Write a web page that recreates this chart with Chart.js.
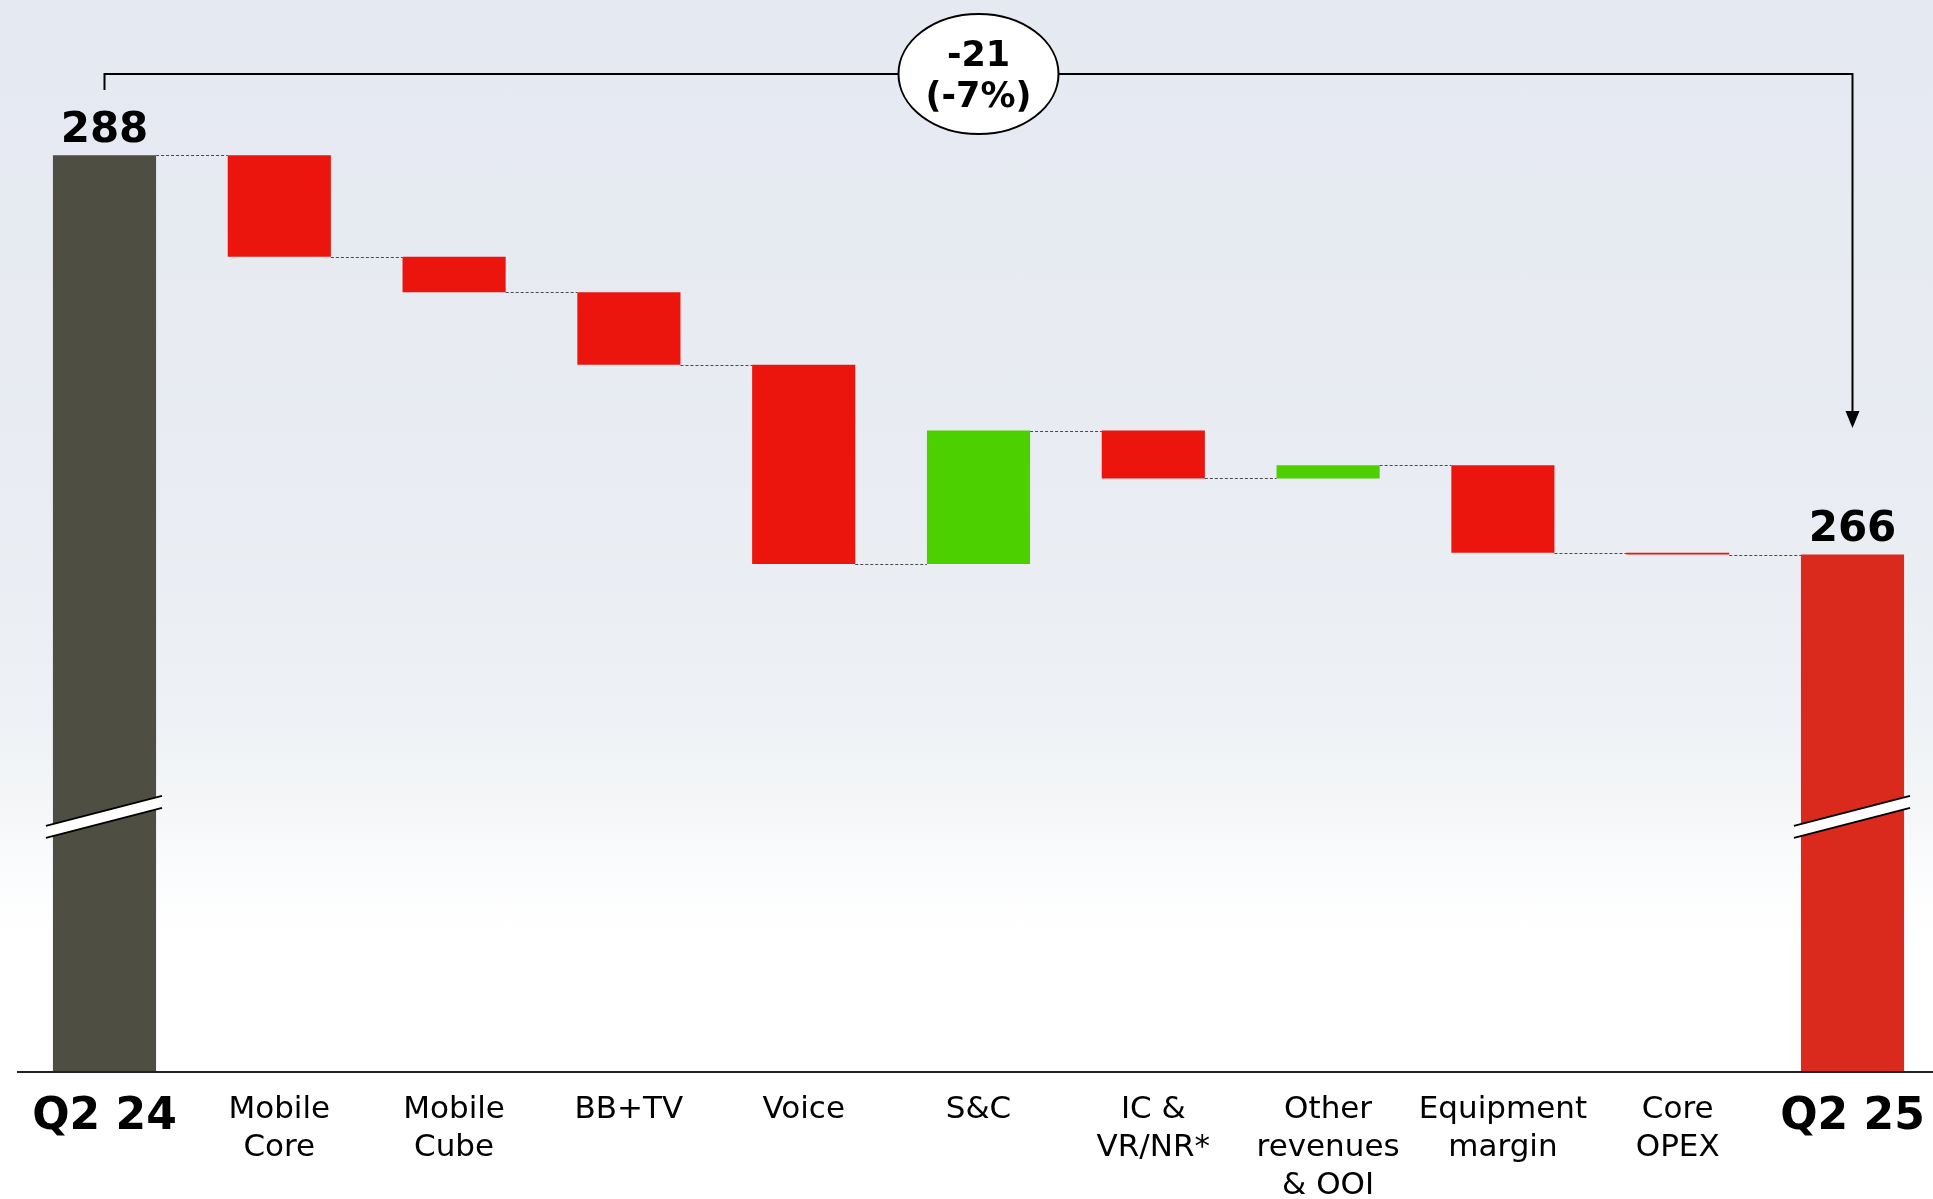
<!DOCTYPE html>
<html>
<head>
<meta charset="utf-8">
<script src="https://cdn.jsdelivr.net/npm/chart.js@4.4.1/dist/chart.umd.min.js"></script>
<style>
  html, body { margin:0; padding:0; width:1933px; height:1199px; overflow:hidden;
    background: linear-gradient(to bottom, #e5e9f1 0%, #e8ebf2 35%, #ebeef3 50%, #eef1f5 60%, #f4f6f8 67%, #fbfcfd 73%, #ffffff 78%); }
  #c { display:block; }
</style>
</head>
<body>
<canvas id="c" width="1933" height="1199"></canvas>
<script>
// ---------------- DATA ----------------
const categories = [
  ["Q2 24"], ["Mobile","Core"], ["Mobile","Cube"], ["BB+TV"], ["Voice"], ["S&C"],
  ["IC &","VR/NR*"], ["Other","revenues","& OOI"], ["Equipment","margin"], ["Core","OPEX"], ["Q2 25"]
];
const startTotal = 287.6;
const deltas = [-5.4, -1.9, -3.85, -10.6, 7.1, -2.55, 0.7, -4.65, -0.1];
const endTotal = 266.35;

// ---------------- AXIS / STYLE ----------------
const AXIS_MIN = 238.88;
const AXIS_MAX = 295.32;
const BREAK_VALUE = 252.4;
const FONT = "'DejaVu Sans', Verdana, sans-serif";
const COLOR_START = '#4e4e42';
const COLOR_END = '#da291d';
const COLOR_NEG = '#eb150e';
const COLOR_POS = '#4cd000';

// running levels
const levels = [startTotal];
deltas.forEach(d => levels.push(levels[levels.length - 1] + d));
levels.push(endTotal);

const barData = [[AXIS_MIN, startTotal]];
deltas.forEach((d, i) => barData.push([levels[i], levels[i] + d]));
barData.push([AXIS_MIN, endTotal]);

const barColors = [COLOR_START].concat(deltas.map(d => d < 0 ? COLOR_NEG : COLOR_POS)).concat([COLOR_END]);

const overlay = {
  id: 'overlay',
  afterDatasetsDraw(chart) {
    const ctx = chart.ctx;
    const xs = chart.scales.x, ys = chart.scales.y;
    const bars = chart.getDatasetMeta(0).data.map(b => b.getProps(['x','width'], true));
    const area = chart.chartArea;
    ctx.save();

    // connectors
    ctx.strokeStyle = '#4a4a4a';
    ctx.lineWidth = 1;
    ctx.setLineDash([3, 2]);
    for (let i = 0; i < bars.length - 1; i++) {
      const yy = Math.round(ys.getPixelForValue(levels[i])) + 0.5;
      ctx.beginPath();
      ctx.moveTo(bars[i].x + bars[i].width / 2, yy);
      ctx.lineTo(bars[i + 1].x - bars[i + 1].width / 2, yy);
      ctx.stroke();
    }
    ctx.setLineDash([]);

    // axis line
    ctx.strokeStyle = '#222';
    ctx.lineWidth = 2;
    ctx.beginPath();
    ctx.moveTo(17, area.bottom + 1);
    ctx.lineTo(1933, area.bottom + 1);
    ctx.stroke();

    // break marks
    [0, bars.length - 1].forEach(i => {
      const L = bars[i].x - bars[i].width / 2 - 7;
      const R = bars[i].x + bars[i].width / 2 + 6;
      const yc = ys.getPixelForValue(BREAK_VALUE);
      const h = 6;
      ctx.fillStyle = '#ffffff';
      ctx.beginPath();
      ctx.moveTo(L, yc + 15 - h); ctx.lineTo(R, yc - 15 - h);
      ctx.lineTo(R, yc - 15 + h); ctx.lineTo(L, yc + 15 + h);
      ctx.closePath(); ctx.fill();
      ctx.strokeStyle = '#000'; ctx.lineWidth = 1.8;
      ctx.beginPath(); ctx.moveTo(L, yc + 15 - h); ctx.lineTo(R, yc - 15 - h); ctx.stroke();
      ctx.beginPath(); ctx.moveTo(L, yc + 15 + h); ctx.lineTo(R, yc - 15 + h); ctx.stroke();
    });

    // total labels
    ctx.fillStyle = '#000';
    ctx.font = 'bold 42px ' + FONT;
    ctx.textAlign = 'center';
    ctx.textBaseline = 'alphabetic';
    ctx.fillText(String(Math.round(startTotal)), bars[0].x, ys.getPixelForValue(startTotal) - 13);
    ctx.fillText(String(Math.round(endTotal)), bars[bars.length - 1].x, ys.getPixelForValue(endTotal) - 14);

    // bracket with arrow
    const yTop = 74;
    const x0 = bars[0].x, x1 = bars[bars.length - 1].x;
    const tip = 428;
    ctx.strokeStyle = '#000'; ctx.lineWidth = 2;
    ctx.beginPath();
    ctx.moveTo(x0, 90); ctx.lineTo(x0, yTop); ctx.lineTo(x1, yTop); ctx.lineTo(x1, tip - 14);
    ctx.stroke();
    ctx.fillStyle = '#000';
    ctx.beginPath();
    ctx.moveTo(x1 - 7, tip - 17); ctx.lineTo(x1 + 7, tip - 17); ctx.lineTo(x1, tip);
    ctx.closePath(); ctx.fill();

    // ellipse
    const cx = xs.getPixelForValue(5);
    ctx.beginPath();
    ctx.ellipse(cx, yTop, 80, 60, 0, 0, Math.PI * 2);
    ctx.fillStyle = '#ffffff'; ctx.fill();
    ctx.strokeStyle = '#000'; ctx.lineWidth = 2; ctx.stroke();
    const change = endTotal - startTotal;
    const pct = change / startTotal * 100;
    ctx.fillStyle = '#000';
    ctx.font = 'bold 35px ' + FONT;
    ctx.fillText(String(Math.round(change)), cx, 66);
    ctx.fillText('(' + Math.round(pct) + '%)', cx, 107);

    ctx.restore();
  }
};

new Chart(document.getElementById('c'), {
  type: 'bar',
  data: {
    labels: categories,
    datasets: [{
      data: barData,
      backgroundColor: barColors,
      borderWidth: 0,
      categoryPercentage: 1,
      barPercentage: 0.59,
      clip: false
    }]
  },
  options: {
    responsive: false,
    animation: false,
    layout: { padding: { left: 104.5, right: 80.5, top: 10, bottom: 0 } },
    plugins: { legend: { display: false }, tooltip: { enabled: false } },
    scales: {
      x: {
        offset: false,
        grid: { display: false, drawTicks: true, tickLength: 20 },
        border: { display: false },
        afterFit: (s) => { s.height = 128; },
        ticks: {
          autoSkip: false, maxRotation: 0, minRotation: 0, padding: 0, color: '#000',
          font: (c) => (c.index === 0 || c.index === categories.length - 1)
            ? { family: FONT, size: 44, weight: 'bold', lineHeight: 1.2 }
            : { family: FONT, size: 31, weight: 'normal', lineHeight: 1.23 }
        }
      },
      y: { display: false, min: AXIS_MIN, max: AXIS_MAX }
    }
  },
  plugins: [overlay]
});
</script>
</body>
</html>
